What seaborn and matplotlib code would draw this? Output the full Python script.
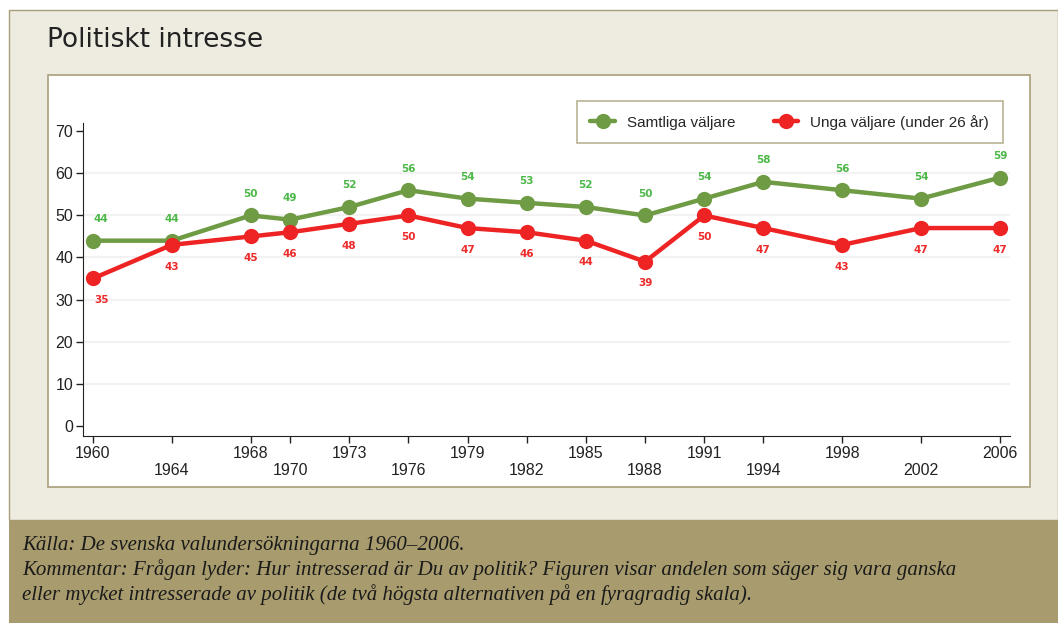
import matplotlib
matplotlib.use("Agg")
import matplotlib.pyplot as plt
from matplotlib.patches import Rectangle
import seaborn as sns
import pandas as pd

# Valundersökningarna 1960-2006
years = [1960, 1964, 1968, 1970, 1973, 1976, 1979, 1982, 1985, 1988, 1991, 1994, 1998, 2002, 2006]
samtliga = [44, 44, 50, 49, 52, 56, 54, 53, 52, 50, 54, 58, 56, 54, 59]
unga = [35, 43, 45, 46, 48, 50, 47, 46, 44, 39, 50, 47, 43, 47, 47]
series_names = ["Samtliga väljare", "Unga väljare (under 26 år)"]

title = "Politiskt intresse"
caption = ["Källa: De svenska valundersökningarna 1960–2006.",
           "Kommentar: Frågan lyder: Hur intresserad är Du av politik? Figuren visar andelen som säger sig vara ganska",
           "eller mycket intresserade av politik (de två högsta alternativen på en fyragradig skala)."]

line_colors = ["#6e9b44", "#ee2424"]
label_colors = ["#4cb848", "#ee2a2a"]

df = pd.DataFrame({
    "år": years * 2,
    "andel": samtliga + unga,
    "grupp": [series_names[0]] * len(years) + [series_names[1]] * len(years),
})

sns.set_style("white")
plt.rcParams["font.family"] = ["Liberation Sans", "DejaVu Sans"]

fig = plt.figure(figsize=(10.58, 6.23), dpi=100)
fig.patch.set_facecolor("white")

# bakgrundspaneler
fig.patches.append(Rectangle((0.0085, 0.1653), 0.9915, 0.8187, transform=fig.transFigure,
                             facecolor="#eeebe0", edgecolor="#a89f7a", linewidth=1, zorder=0))
fig.patches.append(Rectangle((0.0454, 0.2183), 0.9281, 0.6613, transform=fig.transFigure,
                             facecolor="white", edgecolor="#a89f7a", linewidth=1.2, zorder=1))
fig.patches.append(Rectangle((0.0085, 0.0), 0.9915, 0.1653, transform=fig.transFigure,
                             facecolor="#a89c6e", edgecolor="none", zorder=1))

fig.text(0.044, 0.935, title, fontsize=19, color="#222222", family=["DejaVu Sans"], va="center")

ax = fig.add_axes([0.0785, 0.300, 0.876, 0.5026])
ax.set_facecolor("none")
ax.set_zorder(5)

sns.lineplot(data=df, x="år", y="andel", hue="grupp", palette=line_colors,
             marker="o", markersize=11, markeredgewidth=0, linewidth=3.2, ax=ax, zorder=3)

for vals, col, off, va in [(samtliga, label_colors[0], 12, "bottom"), (unga, label_colors[1], -12, "top")]:
    for x, v in zip(years, vals):
        ax.annotate(str(v), (x, v), xytext=(6 if x == 1960 else 0, off), textcoords="offset points",
                    ha="center", va=va, fontsize=7.5, fontweight="bold", color=col,
                    family=["DejaVu Sans"])

ax.set_xlim(1959.5, 2006.5)
ax.set_ylim(-2.5, 72)
ax.set_yticks(range(0, 71, 10))
ax.set_xticks(years)
ax.set_xticklabels([str(y) if i % 2 == 0 else "\n" + str(y) for i, y in enumerate(years)])
ax.tick_params(axis="both", direction="out", length=5, width=1, colors="#222222",
               labelsize=11.5, pad=2, bottom=True, left=True)
for y in range(10, 70, 10):
    ax.axhline(y, color="#f2f2f2", linewidth=1.5, zorder=1)

sns.despine(ax=ax)
ax.spines["left"].set_color("#222222")
ax.spines["bottom"].set_color("#222222")
ax.set_xlabel("")
ax.set_ylabel("")

leg = ax.legend(loc="upper right", bbox_to_anchor=(0.948, 0.838), bbox_transform=fig.transFigure,
                ncol=2, frameon=True, fancybox=False, fontsize=11, handlelength=1.6,
                columnspacing=2.5, borderpad=0.9, handletextpad=0.8, borderaxespad=0)
leg.get_frame().set_edgecolor("#a89f7a")
leg.get_frame().set_linewidth(1.2)

for i, line in enumerate(caption):
    fig.text(0.021, 0.125 - i * 0.04, line, fontsize=15, style="italic",
             family=["Liberation Serif"], color="#1a1a1a", va="center")

fig.savefig("out.png", dpi=100)
